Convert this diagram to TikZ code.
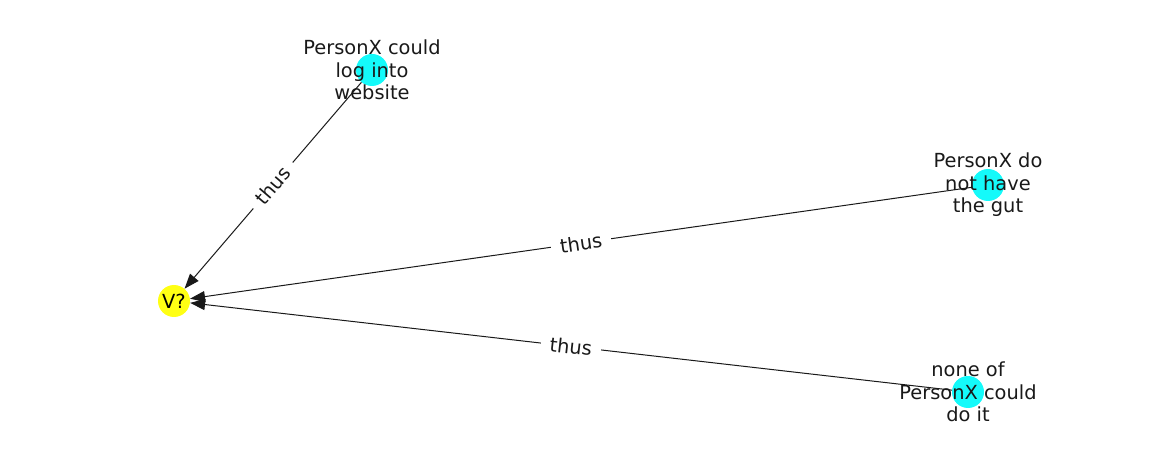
\documentclass[tikz,border=0pt]{standalone}
\usepackage{fontspec}
\setmainfont{DejaVu Sans}
\usetikzlibrary{arrows.meta}

\definecolor{goalyellow}{RGB}{255,255,20}
\definecolor{causecyan}{RGB}{20,250,250}

\begin{document}
\begin{tikzpicture}[
      x=1pt,
      y=-1pt,
      font=\fontsize{19.4}{22.5}\selectfont,
      goal/.style={
          circle,
          fill=goalyellow,
          minimum size=32pt,
          inner sep=0pt
        },
      cause/.style={
          circle,
          fill=causecyan,
          minimum size=32pt,
          inner sep=0pt
        },
      caption/.style={
          align=center,
          inner sep=0pt,
          text=black!90
        },
      arrow/.style={
          -{Triangle[length=15pt,width=11pt]},
          line width=1pt,
          black!90
        },
      rel/.style={
          sloped,
          fill=white,
          inner xsep=9pt,
          inner ysep=4pt,
          text=black!90
        }
    ]
    \useasboundingbox (0,0) rectangle (1162,462);

    % Nodes
    \node[goal] (v) at (174,301) {V?};
    \node[cause] (login) at (372,70) {};
    \node[cause] (gut) at (988,185) {};
    \node[cause] (none) at (968,392) {};

    % Arrows
    \draw[arrow] (login) -- node[rel] {thus} (v);
    \draw[arrow] (gut) -- node[rel] {thus} (v);
    \draw[arrow] (none) -- node[rel] {thus} (v);

    % Texts
    \node[caption] at (login) {PersonX could\\log into\\website};
    \node[caption] at (gut) {PersonX do\\not have\\the gut};
    \node[caption] at (none) {none of\\PersonX could\\do it};
  \end{tikzpicture}
\end{document}
